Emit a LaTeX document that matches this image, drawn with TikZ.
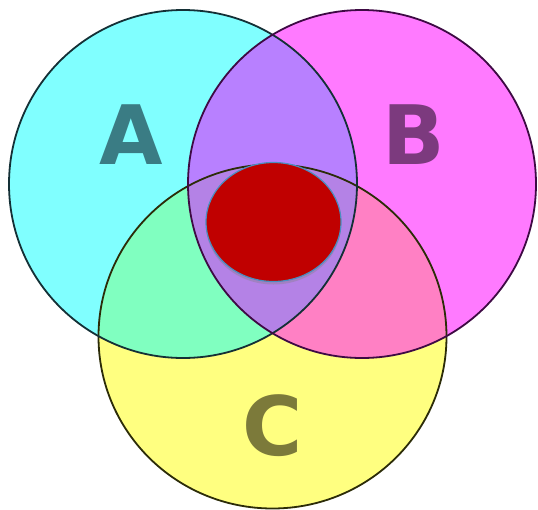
\documentclass[tikz,border=0pt]{standalone}
\usepackage{fontspec}
\setmainfont{DejaVu Sans}
\usetikzlibrary{shadows,shapes.geometric}
\definecolor{cA}{HTML}{80FFFF}
\definecolor{cB}{HTML}{FF7AFF}
\definecolor{cC}{HTML}{FFFF80}
\definecolor{cAB}{HTML}{B880FF}
\definecolor{cAC}{HTML}{80FFC0}
\definecolor{cBC}{HTML}{FF80C4}
\definecolor{cABC}{HTML}{B482E6}
\definecolor{lA}{HTML}{143036}
\definecolor{lB}{HTML}{3E0A44}
\definecolor{lC}{HTML}{2C2C08}
\definecolor{tA}{HTML}{3A7C84}
\definecolor{tB}{HTML}{7C3A7E}
\definecolor{tC}{HTML}{7C7A3A}
\definecolor{red}{HTML}{C00000}
\definecolor{rim}{HTML}{4A8EC0}
\tikzset{
  rim/.style={line width=1.8pt},
  letter/.style={font=\fontsize{82}{82}\selectfont\bfseries, inner sep=0pt}
}
\begin{document}
\begin{tikzpicture}[x=1pt,y=-1pt]
\fill[white] (0,0) rectangle (538,509);
\useasboundingbox (0,0) rectangle (538,509);
\coordinate (ca) at (183,184);
\coordinate (cb) at (362,184);
\coordinate (cc) at (272.5,336.5);
\def\ra{174}
\def\rcx{174}
\def\rcy{172}
% base fills
\fill[cA] (ca) circle (\ra);
\fill[cB] (cb) circle (\ra);
\fill[cC] (cc) ellipse ({\rcx} and {\rcy});
% pairwise
\begin{scope}\clip (ca) circle (\ra); \fill[cAB] (cb) circle (\ra); \end{scope}
\begin{scope}\clip (ca) circle (\ra); \fill[cAC] (cc) ellipse ({\rcx} and {\rcy}); \end{scope}
\begin{scope}\clip (cb) circle (\ra); \fill[cBC] (cc) ellipse ({\rcx} and {\rcy}); \end{scope}
\begin{scope}\clip (ca) circle (\ra); \clip (cb) circle (\ra); \fill[cABC] (cc) ellipse ({\rcx} and {\rcy}); \end{scope}
% outlines
\draw[rim, lC] (cc) ellipse ({\rcx} and {\rcy});
\draw[rim, lA] (ca) circle (\ra);
\draw[rim, lB] (cb) circle (\ra);
% center ellipse
\node[ellipse, fill=red, draw=rim, line width=1.2pt, minimum width=135pt, minimum height=119pt, inner sep=0pt,
  drop shadow={opacity=0.35, shadow xshift=0pt, shadow yshift=-3pt}] (core) at (273.5,222) {};
% labels
\node[letter, text=tA] (la) at (131,135) {A};
\node[letter, text=tB] (lb) at (414,135) {B};
\node[letter, text=tC] (lc) at (273,426) {C};
\end{tikzpicture}
\end{document}
